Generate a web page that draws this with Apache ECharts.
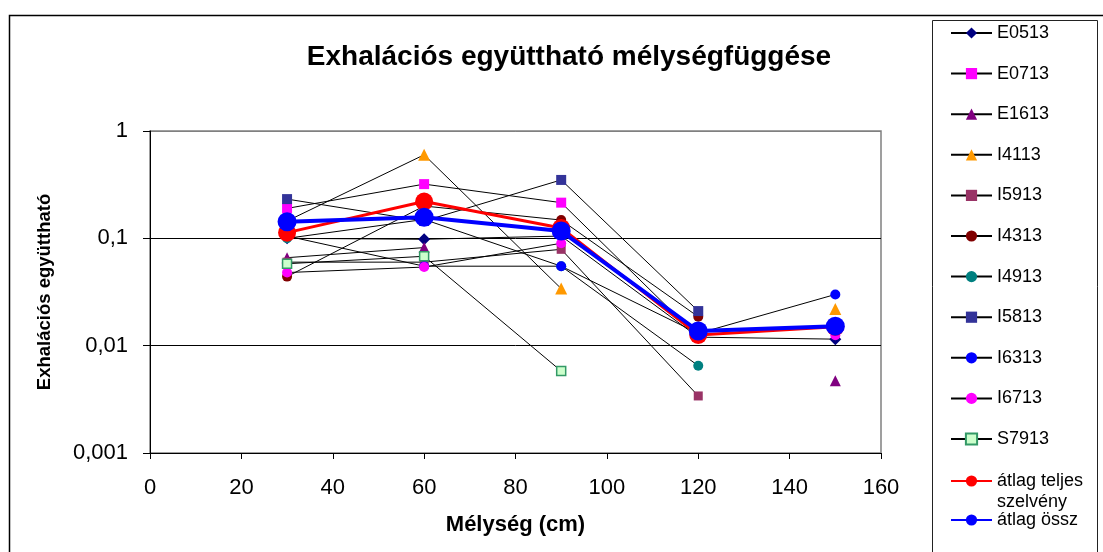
<!DOCTYPE html>
<html>
<head>
<meta charset="utf-8">
<script src="https://cdn.jsdelivr.net/npm/echarts@6/dist/echarts.min.js"></script>
<style>
html, body { margin: 0; padding: 0; background: #fff; }
#main { width: 1103px; height: 552px; }
</style>
</head>
<body>
<div id="main"></div>
<script>
// depths (cm)
var depths = [30, 60, 90, 120, 150];
var yTickLabels = ['0,001', '0,01', '0,1', '1'];

// exhalation coefficient per profile, null = no measurement
var E0513 = [0.1, 0.098, 0.105, 0.012, 0.0115];
var E0713 = [0.19, 0.32, 0.215, 0.012, null];
var E1613 = [0.066, 0.082, null, null, 0.0047];
var I4113 = [0.145, 0.6, 0.034, null, 0.022];
var I5913 = [0.06, 0.06, 0.079, 0.0034, null];
var I4313 = [0.044, 0.2, 0.148, 0.0186, null];
var I4913 = [0.1, 0.15, 0.055, 0.0065, null];
var I5813 = [0.232, 0.145, 0.35, 0.021, null];
var I6313 = [0.105, 0.055, 0.055, 0.013, 0.03];
var I6713 = [0.048, 0.054, 0.09, null, 0.0125];
var S7913 = [0.058, 0.068, 0.0058, null, null];
var atlagTeljes = [0.113, 0.22, 0.125, 0.0126, 0.015];
var atlagOssz = [0.143, 0.157, 0.117, 0.0137, 0.0152];

var FONT = '"Liberation Sans", Arial, sans-serif';

function pairs(vals){
    return depths.map(function(d, i){
        return [d, vals[i] == null ? '-' : vals[i]];
    });
}

function profile(name, vals, symbol, size, fill, border){
    return {
        type: 'line',
        name: name,
        data: pairs(vals),
        symbol: symbol,
        symbolSize: size,
        showAllSymbol: true,
        lineStyle: { color: '#000', width: 1 },
        itemStyle: { color: fill, borderColor: border || fill, borderWidth: border ? 1.5 : 0, opacity: 1 },
        emphasis: { disabled: true },
        z: 2
    };
}

var series = [
    profile('E0513', E0513, 'diamond', 12, '#000080'),
    profile('E0713', E0713, 'rect', 10, '#FF00FF'),
    profile('E1613', E1613, 'triangle', 11, '#800080'),
    profile('I4113', I4113, 'triangle', 12, '#FF9900'),
    profile('I5913', I5913, 'rect', 9, '#993366'),
    profile('I4313', I4313, 'circle', 10, '#800000'),
    profile('I4913', I4913, 'circle', 10, '#008080'),
    profile('I5813', I5813, 'rect', 10, '#333399'),
    profile('I6313', I6313, 'circle', 10, '#0000FF'),
    profile('I6713', I6713, 'circle', 10, '#FF00FF'),
    profile('S7913', S7913, 'rect', 9, '#CCFFCC', '#339966'),
    {
        type: 'line', name: 'átlag teljes szelvény', data: pairs(atlagTeljes),
        symbol: 'circle', symbolSize: 18,
        lineStyle: { color: '#FF0000', width: 3 },
        itemStyle: { color: '#FF0000' },
        emphasis: { disabled: true }, z: 3
    },
    {
        type: 'line', name: 'átlag össz', data: pairs(atlagOssz),
        symbol: 'circle', symbolSize: 19,
        lineStyle: { color: '#0000FF', width: 4 },
        itemStyle: { color: '#0000FF' },
        emphasis: { disabled: true }, z: 4
    }
];

var profileNames = ['E0513','E0713','E1613','I4113','I5913','I4313','I4913','I5813','I6313','I6713','S7913'];

var legendBase = {
    orient: 'vertical',
    left: 950,
    padding: 0,
    itemWidth: 41,
    itemHeight: 14,
    itemGap: 22.6,
    selectedMode: false,
    textStyle: { fontFamily: FONT, fontSize: 18, color: '#000', lineHeight: 18 }
};

var option = {
    backgroundColor: '#fff',
    animation: false,
    title: {
        text: 'Exhalációs együttható mélységfüggése',
        left: 564,
        top: 38,
        textAlign: 'center',
        textStyle: { fontFamily: FONT, fontSize: 28, fontWeight: 'bold', color: '#000' }
    },
    graphic: [
        { type: 'rect', shape: { x: 9.5, y: 15.5, width: 1200, height: 600 },
          style: { fill: 'none', stroke: '#000', lineWidth: 1.5 }, silent: true, z: -1 },
        { type: 'rect', shape: { x: 932.5, y: 20.5, width: 165, height: 600 },
          style: { fill: 'none', stroke: '#222', lineWidth: 1 }, silent: true, z: -1 }
    ],
    legend: [
        Object.assign({}, legendBase, { top: 24, data: profileNames }),
        Object.assign({}, legendBase, {
            top: 449.5, data: ['átlag teljes szelvény'],
            formatter: function(){ return ' \nátlag teljes\nszelvény'; },
            textStyle: { fontFamily: FONT, fontSize: 18, color: '#000', lineHeight: 21 }
        }),
        Object.assign({}, legendBase, { top: 511, data: ['átlag össz'] })
    ],
    grid: {
        left: 150, top: 131, width: 731, height: 322,
        show: true, borderColor: '#808080', borderWidth: 1.5, containLabel: false
    },
    xAxis: {
        type: 'value',
        min: 0, max: 160, interval: 20,
        name: 'Mélység (cm)',
        nameLocation: 'middle',
        nameGap: 61,
        nameTextStyle: { fontFamily: FONT, fontSize: 22, fontWeight: 'bold', color: '#000' },
        axisLine: { show: true, lineStyle: { color: '#000', width: 1 } },
        axisTick: { show: true, inside: false, length: 6, lineStyle: { color: '#000' } },
        axisLabel: { fontFamily: FONT, fontSize: 22, color: '#000', margin: 24 },
        splitLine: { show: false }
    },
    yAxis: {
        type: 'log',
        logBase: 10,
        min: 0.001, max: 1,
        name: 'Exhalációs együttható',
        nameLocation: 'middle',
        nameGap: 96,
        nameTextStyle: { fontFamily: FONT, fontSize: 18.5, fontWeight: 'bold', color: '#000' },
        axisLine: { show: true, lineStyle: { color: '#000', width: 1 } },
        axisTick: { show: true, inside: false, length: 7, lineStyle: { color: '#000' } },
        axisLabel: {
            fontFamily: FONT, fontSize: 22, color: '#000', margin: 22,
            formatter: function(value, index){ return yTickLabels[index]; }
        },
        splitLine: { show: true, lineStyle: { color: ['#000', '#000', '#000', '#808080'], width: 1 } }
    },
    series: series
};

var myChart = echarts.init(document.getElementById('main'));
myChart.setOption(option);
</script>
</body>
</html>
